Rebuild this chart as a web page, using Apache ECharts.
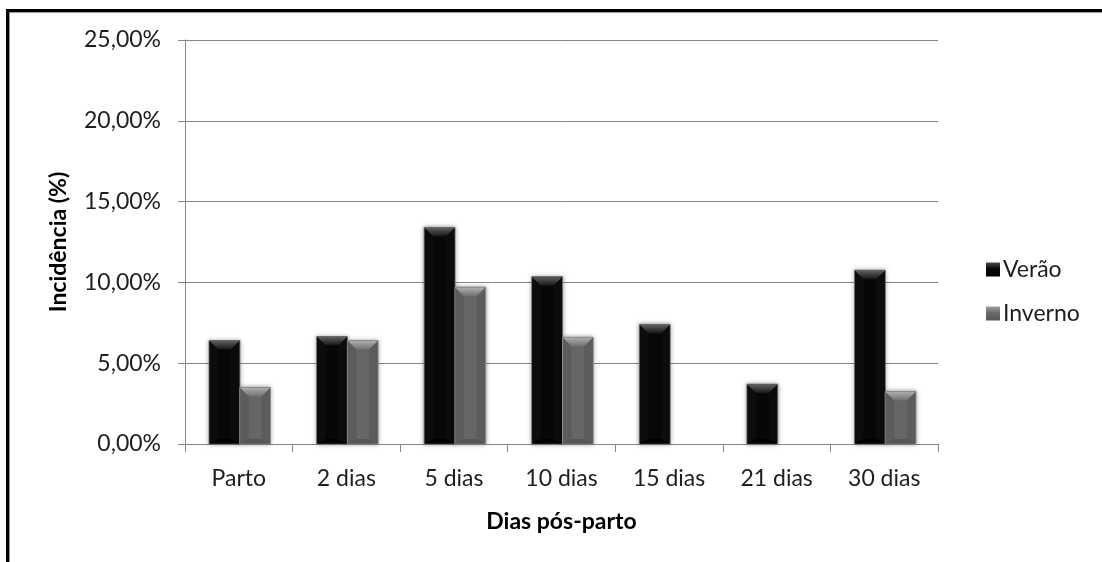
<!DOCTYPE html>
<html>
<head>
<meta charset="utf-8">
<script src="https://cdn.jsdelivr.net/npm/echarts@6/dist/echarts.min.js"></script>
<style>
  html, body { margin: 0; padding: 0; background: #ffffff; }
  #chart { width: 1102px; height: 562px; }
</style>
</head>
<body>
<div id="chart"></div>
<script>
// Incidência por dia pós-parto, verão x inverno
const categories = ['Parto', '2 dias', '5 dias', '10 dias', '15 dias', '21 dias', '30 dias'];
const verao = [6.4, 6.65, 13.4, 10.35, 7.4, 3.7, 10.75];
const inverno = [3.5, 6.4, 9.7, 6.6, 0, 0, 3.25];
const seriesNames = ['Verão', 'Inverno'];
const yTicks = [0, 5, 10, 15, 20, 25];

const FONT = 'Lato, "Open Sans", sans-serif';
const FS = 23;

// bevelled bar look: body, lighter top facet, shaded sides and bottom
const looks = [
  { body: '#070707', top0: '#5e5e5e', top1: '#151515', side: '#0c0c0c', bottom: '#000000', edge: '#6a6a6a' },
  { body: '#666666', top0: '#acacac', top1: '#707070', side: '#5c5c5c', bottom: '#555555', edge: '#8a8a8a' }
];

function bevelBar(seriesIdx) {
  const look = looks[seriesIdx];
  return function (params, api) {
    const cat = api.value(0);
    const val = api.value(1);
    if (!val) return null;
    const base = api.coord([cat, 0]);
    const tip = api.coord([cat, val]);
    const band = api.size([1, 0])[0];
    const w = band * 0.285;
    const x = base[0] - w + seriesIdx * w + 1;
    const y0 = tip[1];
    const y1 = base[1];
    const h = y1 - y0;
    const d = Math.min(9, h / 2, w / 2);
    const db = Math.min(5, h / 2);
    return {
      type: 'group',
      children: [
        {
          type: 'rect',
          shape: { x: x, y: y0, width: w, height: h },
          style: {
            fill: look.body, stroke: look.edge, lineWidth: 1,
            shadowBlur: 4, shadowColor: 'rgba(0,0,0,0.35)'
          }
        },
        {
          type: 'polygon',
          shape: { points: [[x + 0.5, y0 + 0.5], [x + d, y0 + d], [x + d, y1 - db], [x + 0.5, y1 - 0.5]] },
          style: { fill: look.side }
        },
        {
          type: 'polygon',
          shape: { points: [[x + w - 0.5, y0 + 0.5], [x + w - d, y0 + d], [x + w - d, y1 - db], [x + w - 0.5, y1 - 0.5]] },
          style: { fill: look.side }
        },
        {
          type: 'polygon',
          shape: { points: [[x + 0.5, y1 - 0.5], [x + w - 0.5, y1 - 0.5], [x + w - d, y1 - db], [x + d, y1 - db]] },
          style: { fill: look.bottom }
        },
        {
          type: 'polygon',
          shape: { points: [[x + 0.5, y0 + 0.5], [x + w - 0.5, y0 + 0.5], [x + w - d, y0 + d], [x + d, y0 + d]] },
          style: {
            fill: new echarts.graphic.LinearGradient(0, 0, 0, 1, [
              { offset: 0, color: look.top0 },
              { offset: 1, color: look.top1 }
            ])
          }
        }
      ]
    };
  };
}

function pairs(values) {
  return values.map(function (v, i) { return [i, v]; });
}

const chart = echarts.init(document.getElementById('chart'), null, { renderer: 'canvas' });

chart.setOption({
  backgroundColor: '#ffffff',
  animation: false,
  textStyle: { fontFamily: FONT },
  grid: { left: 185, right: 164, top: 40, bottom: 118, containLabel: false },
  legend: {
    orient: 'vertical',
    left: 981,
    top: 253,
    itemWidth: 14,
    itemHeight: 14,
    itemGap: 21,
    icon: 'rect',
    textStyle: { fontFamily: FONT, fontSize: FS, color: '#1e1e1e', padding: [0, 0, 0, -2] },
    data: [
      { name: seriesNames[0], itemStyle: { color: new echarts.graphic.LinearGradient(0, 0, 0, 1, [{ offset: 0, color: '#4a4a4a' }, { offset: 0.45, color: '#080808' }, { offset: 1, color: '#000' }]) } },
      { name: seriesNames[1], itemStyle: { color: new echarts.graphic.LinearGradient(0, 0, 0, 1, [{ offset: 0, color: '#a0a0a0' }, { offset: 0.45, color: '#6a6a6a' }, { offset: 1, color: '#555' }]) } }
    ]
  },
  xAxis: {
    type: 'category',
    data: categories,
    name: 'Dias pós-parto',
    nameLocation: 'middle',
    nameGap: 66,
    nameTextStyle: { fontFamily: FONT, fontSize: FS, fontWeight: 'bold', color: '#000' },
    axisLine: { show: true, lineStyle: { color: '#868686', width: 1 } },
    axisTick: { show: true, length: 8, alignWithLabel: false, lineStyle: { color: '#868686' } },
    axisLabel: { fontFamily: FONT, fontSize: FS, color: '#1e1e1e', margin: 23 },
    splitLine: { show: false }
  },
  yAxis: {
    type: 'value',
    min: 0,
    max: 25,
    interval: 5,
    name: 'Incidência (%)',
    nameLocation: 'middle',
    nameRotate: 90,
    nameGap: 115,
    nameTextStyle: { fontFamily: FONT, fontSize: FS, fontWeight: 'bold', color: '#000' },
    axisLine: { show: true, lineStyle: { color: '#868686', width: 1 } },
    axisTick: { show: true, length: 7, lineStyle: { color: '#868686' } },
    axisLabel: {
      fontFamily: FONT, fontSize: FS, color: '#1e1e1e', margin: 24,
      formatter: function (v) { return yTicks.indexOf(v) >= 0 ? v.toFixed(2).replace('.', ',') + '%' : ''; }
    },
    splitLine: { show: true, lineStyle: { color: '#868686', width: 1 } }
  },
  series: [
    {
      name: seriesNames[0],
      type: 'custom',
      itemStyle: { color: '#070707' },
      encode: { x: 0, y: 1 },
      renderItem: bevelBar(0),
      data: pairs(verao)
    },
    {
      name: seriesNames[1],
      type: 'custom',
      itemStyle: { color: '#666666' },
      encode: { x: 0, y: 1 },
      renderItem: bevelBar(1),
      data: pairs(inverno)
    }
  ],
  graphic: [
    { type: 'rect', left: 6, top: 9, shape: { width: 1096, height: 3 }, style: { fill: '#000' }, silent: true },
    { type: 'rect', left: 9, top: 12, shape: { width: 1093, height: 1 }, style: { fill: '#9a9a9a' }, silent: true },
    { type: 'rect', left: 6, top: 9, shape: { width: 3, height: 553 }, style: { fill: '#000' }, silent: true },
    { type: 'rect', left: 9, top: 12, shape: { width: 1, height: 550 }, style: { fill: '#9a9a9a' }, silent: true }
  ]
});
</script>
</body>
</html>
